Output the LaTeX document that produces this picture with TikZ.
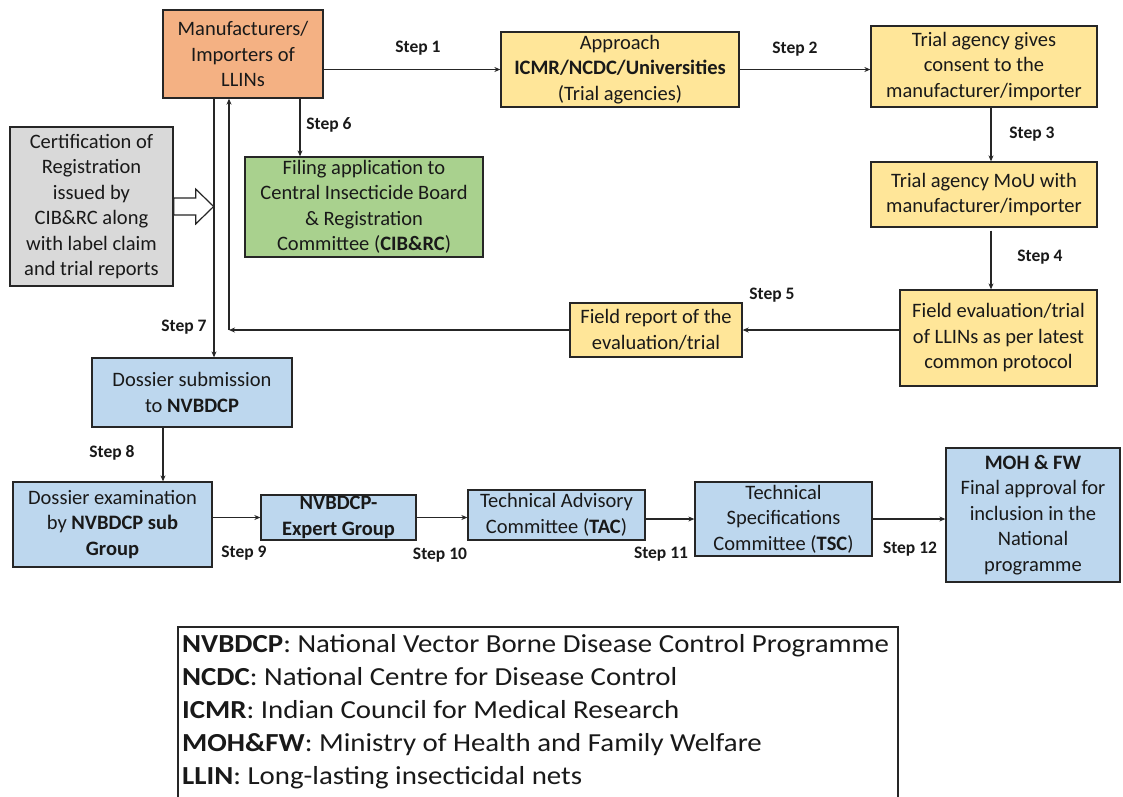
\documentclass[tikz,border=0pt]{standalone}
\usepackage{fontspec}
\setmainfont{Carlito}
\newfontfamily\legendfont{Carlito}[FakeStretch=1.11]
\usetikzlibrary{arrows.meta}
\definecolor{orangebox}{HTML}{F4B183}
\definecolor{yellowbox}{HTML}{FFE699}
\definecolor{greenbox}{HTML}{A9D18E}
\definecolor{bluebox}{HTML}{BDD7EE}
\definecolor{graybox}{HTML}{D9D9D9}
\definecolor{edge}{HTML}{262626}
\begin{document}
\begin{tikzpicture}[x=1pt,y=-1pt,
  box/.style={draw=edge, line width=1.3pt, align=center, inner sep=0pt,
    font=\fontsize{20.5}{25.5}\selectfont, text=black!90},
  steplbl/.style={font=\bfseries\fontsize{17.5}{20}\selectfont, text=black!90, inner sep=0pt},
  arr/.style={draw=edge, line width=1.2pt, -{Stealth[length=6pt,width=5pt]}},
  hollow/.style={draw=edge, line width=1.2pt, fill=white, line join=miter}
]
\useasboundingbox[fill=white] (0,0) rectangle (1123,796);

% boxes
\node[box, fill=orangebox, minimum width=160, minimum height=88] (man) at (243,54)
  {Manufacturers/\\Importers of\\LLINs};
\node[box, fill=yellowbox, minimum width=238, minimum height=75] (app) at (620,69.5)
  {Approach\\\textbf{ICMR/NCDC/Universities}\\(Trial agencies)};
\node[box, fill=yellowbox, minimum width=226, minimum height=81] (cons) at (984,66.5)
  {Trial agency gives\\consent to the\\manufacturer/importer};
\node[box, fill=yellowbox, minimum width=226, minimum height=65] (mou) at (984,194.5)
  {Trial agency MoU with\\manufacturer/importer};
\node[box, fill=yellowbox, minimum width=197, minimum height=96] (feval) at (998.5,338)
  {Field evaluation/trial\\of LLINs as per latest\\common protocol};
\node[box, fill=yellowbox, minimum width=172, minimum height=54] (frep) at (656,330)
  {Field report of the\\evaluation/trial};
\node[box, fill=greenbox, minimum width=238, minimum height=100] (cib) at (364,207)
  {Filing application to\\Central Insecticide Board\\\& Registration\\Committee (\textbf{CIB\&RC})};
\node[box, fill=graybox, minimum width=163, minimum height=159] (cert) at (91.5,206.5)
  {Certification of\\Registration\\issued by\\CIB\&RC along\\with label claim\\and trial reports};
\node[box, fill=bluebox, minimum width=200, minimum height=69] (dsub) at (192,392.5)
  {Dossier submission\\to \textbf{NVBDCP}};
\node[box, fill=bluebox, minimum width=199, minimum height=85] (dexam) at (112.5,524.5)
  {Dossier examination\\by \textbf{NVBDCP sub}\\\textbf{Group}};
\node[box, fill=bluebox, minimum width=155, minimum height=45] (nexp) at (338.5,517.5)
  {\textbf{NVBDCP-}\\\textbf{Expert Group}};
\node[box, fill=bluebox, minimum width=177, minimum height=50] (tac) at (556.5,515)
  {Technical Advisory\\Committee (\textbf{TAC})};
\node[box, fill=bluebox, minimum width=177, minimum height=74] (tsc) at (783.5,519)
  {Technical\\Specifications\\Committee (\textbf{TSC})};
\node[box, fill=bluebox, minimum width=174, minimum height=134] (moh) at (1033,515)
  {\textbf{MOH \& FW}\\Final approval for\\inclusion in the\\National\\programme};

% connectors
\draw[arr] (man.east |- app.west) -- (app.west);
\draw[arr] (app.east) -- (cons.west |- app.east);
\draw[arr] ([xshift=7pt]cons.south) -- ([xshift=7pt]cons.south |- mou.north);
\draw[arr] ([xshift=7pt,yshift=-3pt]mou.south) -- ([xshift=7pt]mou.south |- feval.north);
\draw[arr] (feval.west |- frep.east) -- (frep.east);
\coordinate (ret) at (229,330);
\draw[arr] (frep.west) -- (ret);
\draw[arr] (ret) -- (ret |- man.south);
\draw[arr] ([xshift=57pt]man.south) -- ([xshift=57pt]man.south |- cib.north);
\draw[arr] ([xshift=-29pt]man.south) -- ([xshift=-29pt]man.south |- dsub.north);
\draw[arr] ([xshift=-29pt]dsub.south) -- ([xshift=-29pt]dsub.south |- dexam.north);
\draw[arr] (dexam.east |- nexp.west) -- (nexp.west);
\draw[arr] (nexp.east) -- (tac.west |- nexp.east);
\draw[arr] (tac.east |- tsc.west) -- (tsc.west);
\draw[arr] (tsc.east) -- (tsc.east -| moh.west);

% hollow block arrow
\draw[hollow] (cert.east) ++(0,-8.5) -- ++(22,0) -- ++(0,-9) -- ++(18,17.5)
  -- ++(-18,17.5) -- ++(0,-9) -- ++(-22,0) -- cycle;

% step labels
\node[steplbl] (s1) at (418,48) {Step 1};
\node[steplbl] (s2) at (795,49) {Step 2};
\node[steplbl] (s3) at (1032,134) {Step 3};
\node[steplbl] (s4) at (1040,257) {Step 4};
\node[steplbl] (s5) at (772,295) {Step 5};
\node[steplbl] (s6) at (329,125) {Step 6};
\node[steplbl] (s7) at (184,327) {Step 7};
\node[steplbl] (s8) at (112,453) {Step 8};
\node[steplbl] (s9) at (244,553) {Step 9};
\node[steplbl] (s10) at (440,555) {Step 10};
\node[steplbl] (s11) at (661,554) {Step 11};
\node[steplbl] (s12) at (910,549) {Step 12};

% legend
\draw[draw=edge, line width=1.3pt] (178,800) -- (178,627) -- (898,627) -- (898,800);
\node[anchor=west, align=left, inner sep=0pt, text=black!90,
  font=\legendfont\fontsize{26}{33}\selectfont] (legend) at (182,712)
  {\textbf{NVBDCP}: National Vector Borne Disease Control Programme\\
   \textbf{NCDC}: National Centre for Disease Control\\
   \textbf{ICMR}: Indian Council for Medical Research\\
   \textbf{MOH\&FW}: Ministry of Health and Family Welfare\\
   \textbf{LLIN}: Long-lasting insecticidal nets};
\end{tikzpicture}
\end{document}
